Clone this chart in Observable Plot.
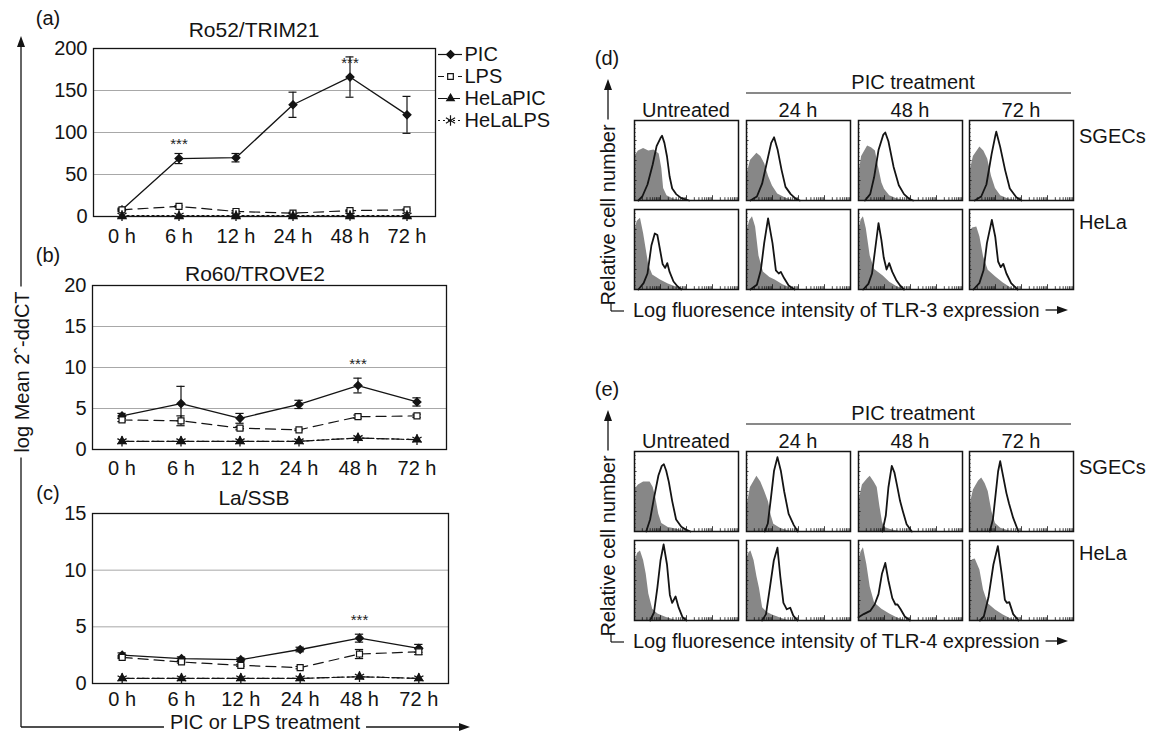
<!DOCTYPE html>
<html><head><meta charset="utf-8">
<script src="https://cdn.jsdelivr.net/npm/d3@7"></script>
<script src="https://cdn.jsdelivr.net/npm/@observablehq/plot@0.6"></script>
<style>
html,body{margin:0;padding:0;background:#fff;}
#root{position:relative;width:1158px;height:736px;overflow:hidden;font-family:"Liberation Sans",Arial,Helvetica,sans-serif;color:#111;}
</style></head><body><div id="root"></div>
<script>
// ---------- DATA: line charts ----------
const times = ["0 h","6 h","12 h","24 h","48 h","72 h"];
const seriesNames = ["PIC","LPS","HeLaPIC","HeLaLPS"];

// (a) Ro52/TRIM21
const ro52PIC      = [8, 69, 70, 133, 166, 121];
const ro52PICerr   = [2, 6, 5, 15, 24, 22];
const ro52LPS      = [8, 12, 6, 4, 7, 8];
const ro52LPSerr   = [1, 1, 1, 1, 1, 1];
const ro52HeLaPIC  = [0.3, 0.3, 0.3, 0.3, 0.3, 0.3];
const ro52HeLaLPS  = [1, 1, 1, 1, 1.2, 1];
const ro52SigTimes = ["6 h", "48 h"];
const ro52SigY     = [86, 182];

// (b) Ro60/TROVE2
const ro60PIC      = [4.1, 5.6, 3.8, 5.5, 7.8, 5.8];
const ro60PICerr   = [0.3, 2.1, 0.6, 0.5, 0.9, 0.5];
const ro60LPS      = [3.6, 3.5, 2.6, 2.4, 4.0, 4.1];
const ro60LPSerr   = [0.2, 0.6, 0.2, 0.1, 0.2, 0.2];
const ro60HeLaPIC  = [1.0, 1.0, 1.0, 1.0, 1.4, 1.2];
const ro60HeLaLPS  = [1.0, 1.0, 1.0, 1.0, 1.4, 1.2];
const ro60SigTimes = ["48 h"];
const ro60SigY     = [10.4];

// (c) La/SSB
const laPIC        = [2.5, 2.2, 2.1, 3.0, 4.0, 3.1];
const laPICerr     = [0.2, 0.15, 0.15, 0.2, 0.35, 0.35];
const laLPS        = [2.3, 1.9, 1.6, 1.4, 2.6, 2.8];
const laLPSerr     = [0.1, 0.1, 0.1, 0.1, 0.4, 0.25];
const laHeLaPIC    = [0.45, 0.45, 0.45, 0.45, 0.6, 0.45];
const laHeLaLPS    = [0.45, 0.45, 0.45, 0.45, 0.6, 0.45];
const laSigTimes   = ["48 h"];
const laSigY       = [5.6];

// ---------- DATA: flow cytometry histograms ([log decade, % of max]) ----------
const conditions = ["Untreated","24 h","48 h","72 h"];
const cellLines = ["SGECs","HeLa"];
// TLR-3, SGECs
const t3SgecIso0 = [[0,55],[0.15,62],[0.35,65],[0.55,62],[0.75,63],[0.95,58],[1.05,40],[1.12,15],[1.25,6],[1.5,2],[1.8,0]];
const t3SgecTlr0 = [[0.15,0],[0.3,5],[0.5,20],[0.7,45],[0.85,68],[1.0,78],[1.06,81],[1.15,72],[1.25,55],[1.35,30],[1.45,15],[1.6,8],[1.8,3],[2.1,0]];
const t3SgecIso24 = [[0,30],[0.15,50],[0.4,59],[0.55,55],[0.7,46],[0.85,30],[1.0,18],[1.2,8],[1.5,3],[1.8,0]];
const t3SgecTlr24 = [[0.15,0],[0.4,5],[0.6,21],[0.8,50],[0.95,72],[1.06,79],[1.2,63],[1.35,38],[1.5,17],[1.7,8],[1.9,2],[2.05,0]];
const t3SgecIso48 = [[0,30],[0.12,55],[0.35,68],[0.5,66],[0.65,62],[0.77,42],[0.9,22],[1.0,14],[1.2,6],[1.5,2],[1.8,0]];
const t3SgecTlr48 = [[0.25,0],[0.45,8],[0.6,29],[0.77,63],[0.95,82],[1.03,85],[1.15,74],[1.35,42],[1.55,19],[1.75,8],[1.95,2],[2.1,0]];
const t3SgecIso72 = [[0,33],[0.15,55],[0.4,67],[0.55,62],[0.7,52],[0.85,30],[1.0,15],[1.2,6],[1.5,2],[1.8,0]];
const t3SgecTlr72 = [[0.2,0],[0.45,5],[0.65,20],[0.85,58],[1.0,82],[1.03,86],[1.18,67],[1.37,38],[1.55,15],[1.8,4],[2.0,0]];
// TLR-3, HeLa
const t3HelaIso0 = [[0,70],[0.1,85],[0.23,89],[0.35,70],[0.45,50],[0.55,30],[0.7,18],[1.0,12],[1.3,7],[1.6,3],[1.9,0]];
const t3HelaTlr0 = [[0.15,0],[0.35,8],[0.5,20],[0.65,55],[0.78,70],[0.88,68],[0.98,50],[1.08,32],[1.18,27],[1.26,33],[1.35,22],[1.5,10],[1.65,4],[1.8,0]];
const t3HelaIso24 = [[0,70],[0.12,86],[0.23,91],[0.35,78],[0.48,42],[0.65,22],[0.9,15],[1.1,12],[1.4,6],[1.7,2],[1.9,0]];
const t3HelaTlr24 = [[0.15,0],[0.4,6],[0.55,24],[0.68,58],[0.83,89],[1.0,58],[1.13,24],[1.24,20],[1.32,22],[1.45,14],[1.62,5],[1.85,0]];
const t3HelaIso48 = [[0,72],[0.1,87],[0.19,91],[0.3,76],[0.45,42],[0.62,25],[0.95,17],[1.2,9],[1.5,3],[1.8,0]];
const t3HelaTlr48 = [[0.18,0],[0.38,7],[0.52,20],[0.64,50],[0.77,83],[0.88,62],[0.97,40],[1.08,25],[1.18,33],[1.3,22],[1.45,12],[1.6,5],[1.75,0]];
const t3HelaIso72 = [[0,72],[0.12,77],[0.28,78],[0.4,66],[0.54,41],[0.72,24],[1.0,16],[1.3,8],[1.6,2],[1.8,0]];
const t3HelaTlr72 = [[0.15,0],[0.38,8],[0.54,24],[0.67,58],[0.86,87],[0.99,66],[1.1,35],[1.2,28],[1.3,32],[1.42,20],[1.6,8],[1.85,0]];
// TLR-4, SGECs
const t4SgecIso0 = [[0,52],[0.15,58],[0.35,62],[0.6,62],[0.72,55],[0.82,42],[0.93,22],[1.05,10],[1.3,5],[1.6,3],[1.9,0]];
const t4SgecTlr0 = [[0.45,0],[0.6,15],[0.75,42],[0.92,70],[1.05,82],[1.13,84],[1.22,76],[1.32,62],[1.45,38],[1.6,15],[1.8,6],[2.0,2],[2.15,0]];
const t4SgecIso24 = [[0,28],[0.15,55],[0.4,69],[0.55,62],[0.7,50],[0.85,37],[0.95,20],[1.05,9],[1.3,4],[1.6,1],[1.8,0]];
const t4SgecTlr24 = [[0.7,0],[0.82,10],[0.94,42],[1.06,76],[1.19,93],[1.32,76],[1.45,50],[1.62,22],[1.82,8],[1.97,0]];
const t4SgecIso48 = [[0,35],[0.15,58],[0.35,66],[0.45,69],[0.6,62],[0.72,55],[0.82,32],[0.92,12],[1.0,5],[1.3,2],[1.6,0]];
const t4SgecTlr48 = [[0.92,0],[1.05,20],[1.15,55],[1.28,82],[1.38,74],[1.48,58],[1.6,38],[1.7,26],[1.85,9],[2.05,0]];
const t4SgecIso72 = [[0,30],[0.15,52],[0.35,63],[0.47,67],[0.6,60],[0.72,50],[0.86,25],[1.0,10],[1.2,4],[1.5,1],[1.7,0]];
const t4SgecTlr72 = [[0.78,0],[0.9,15],[0.99,42],[1.1,75],[1.18,88],[1.3,68],[1.42,48],[1.52,35],[1.68,17],[1.88,0]];
// TLR-4, HeLa
const t4HelaIso0 = [[0,72],[0.12,84],[0.23,87],[0.35,75],[0.45,58],[0.55,33],[0.7,14],[0.9,8],[1.2,4],[1.6,0]];
const t4HelaTlr0 = [[0.6,0],[0.75,10],[0.88,41],[1.0,75],[1.12,95],[1.25,70],[1.36,32],[1.45,22],[1.58,30],[1.7,16],[1.85,4],[2.0,0]];
const t4HelaIso24 = [[0,75],[0.1,85],[0.17,87],[0.29,75],[0.4,55],[0.5,40],[0.62,16],[0.8,10],[1.0,7],[1.3,3],[1.6,0]];
const t4HelaTlr24 = [[0.6,0],[0.75,8],[0.9,41],[1.05,75],[1.19,91],[1.3,55],[1.42,22],[1.55,14],[1.68,16],[1.8,6],[1.96,0]];
const t4HelaIso48 = [[0,72],[0.1,86],[0.19,91],[0.32,70],[0.45,42],[0.62,22],[0.9,14],[1.2,8],[1.5,3],[1.8,0]];
const t4HelaTlr48 = [[0,4],[0.2,8],[0.45,12],[0.62,20],[0.77,33],[0.9,58],[1.03,72],[1.15,50],[1.3,28],[1.42,20],[1.5,20],[1.62,14],[1.78,5],[1.98,0]];
const t4HelaIso72 = [[0,72],[0.12,76],[0.22,77],[0.4,63],[0.54,38],[0.72,21],[1.0,13],[1.3,7],[1.6,2],[1.85,0]];
const t4HelaTlr72 = [[0.4,0],[0.55,5],[0.73,29],[0.92,70],[1.09,93],[1.24,58],[1.36,26],[1.44,22],[1.53,23],[1.68,8],[1.88,0]];

const decades = [0, 1, 2, 3];

// ---------- RENDER ----------
const FONT = '"Liberation Sans", Arial, Helvetica, sans-serif';
const INK = "#141414";
const root = document.getElementById("root");
function place(node, left, top) {
  node.style.position = "absolute";
  node.style.left = left + "px";
  node.style.top = top + "px";
  root.appendChild(node);
}

function rows(vals, err) {
  return vals.map((v, i) => ({i, v, lo: v - (err ? err[i] : 0), hi: v + (err ? err[i] : 0)}));
}

function lineChart(o) {
  const idx = d3.range(times.length);
  const P = rows(o.pic, o.picErr), L = rows(o.lps, o.lpsErr);
  const HP = rows(o.hpic), HL = rows(o.hlps);
  const S = o.sigTimes.map((t, k) => ({i: times.indexOf(t), y: o.sigY[k]}));
  const cap = 0.07;
  return Plot.plot({
    width: o.width, height: o.height,
    marginTop: o.mt, marginBottom: o.mb, marginLeft: o.ml, marginRight: o.mr,
    style: {fontFamily: FONT, fontSize: "20px", color: INK, background: "none", overflow: "visible"},
    x: {domain: [-0.5, times.length - 0.5]},
    y: {domain: o.domain},
    marks: [
      Plot.ruleY(o.grid, {stroke: "#a8a8a8", strokeWidth: 1}),
      Plot.axisY({ticks: o.ticks, tickSize: 0, tickPadding: 6, label: null, fontSize: 20}),
      Plot.axisX({ticks: idx, tickFormat: i => times[i], tickSize: 0, tickPadding: o.xPad, label: null, fontSize: 20}),
      Plot.line(HP, {x: "i", y: "v", stroke: INK, strokeWidth: 1.2, strokeDasharray: "10,5"}),
      Plot.line(HL, {x: "i", y: "v", stroke: INK, strokeWidth: 1.2, strokeDasharray: "2,3"}),
      Plot.line(L, {x: "i", y: "v", stroke: INK, strokeWidth: 1.2, strokeDasharray: "10,6"}),
      Plot.line(P, {x: "i", y: "v", stroke: INK, strokeWidth: 1.3}),
      Plot.ruleX(P, {x: "i", y1: "lo", y2: "hi", stroke: INK, strokeWidth: 1.2}),
      Plot.ruleY(P, {y: "hi", x1: d => d.i - cap, x2: d => d.i + cap, stroke: INK, strokeWidth: 1.2}),
      Plot.ruleY(P, {y: "lo", x1: d => d.i - cap, x2: d => d.i + cap, stroke: INK, strokeWidth: 1.2}),
      Plot.ruleX(L, {x: "i", y1: "lo", y2: "hi", stroke: INK, strokeWidth: 1.2}),
      Plot.ruleY(L, {y: "hi", x1: d => d.i - cap, x2: d => d.i + cap, stroke: INK, strokeWidth: 1.2}),
      Plot.ruleY(L, {y: "lo", x1: d => d.i - cap, x2: d => d.i + cap, stroke: INK, strokeWidth: 1.2}),
      Plot.dot(P, {x: "i", y: "v", symbol: "diamond2", fill: INK, stroke: INK, r: 3.4}),
      Plot.dot(L, {x: "i", y: "v", symbol: "square2", fill: "white", stroke: INK, strokeWidth: 1.2, r: 3.8}),
      Plot.dot(HP, {x: "i", y: "v", symbol: "triangle2", fill: INK, stroke: INK, r: 3.6}),
      Plot.dot(HL, {x: "i", y: "v", symbol: "asterisk", stroke: INK, strokeWidth: 1.3, r: 5}),
      Plot.text(S, {x: "i", y: "y", text: () => "***", fontSize: 15, fill: "#222222"}),
      Plot.frame({stroke: INK, strokeWidth: 1.3})
    ]
  });
}

place(lineChart({width: 440, height: 260, mt: 48, mb: 44, ml: 93, mr: 5, xPad: 12,
  domain: [0, 200], ticks: [0, 50, 100, 150, 200], grid: [50, 100, 150],
  pic: ro52PIC, picErr: ro52PICerr, lps: ro52LPS, lpsErr: ro52LPSerr, hpic: ro52HeLaPIC, hlps: ro52HeLaLPS,
  sigTimes: ro52SigTimes, sigY: ro52SigY}), 0, 0);

place(lineChart({width: 448, height: 250, mt: 50, mb: 36, ml: 92, mr: 2, xPad: 11,
  domain: [0, 20], ticks: [0, 5, 10, 15, 20], grid: [5, 10, 15],
  pic: ro60PIC, picErr: ro60PICerr, lps: ro60LPS, lpsErr: ro60LPSerr, hpic: ro60HeLaPIC, hlps: ro60HeLaLPS,
  sigTimes: ro60SigTimes, sigY: ro60SigY}), 0, 235);

place(lineChart({width: 450, height: 240, mt: 43, mb: 27, ml: 92, mr: 2, xPad: 8,
  domain: [0, 15], ticks: [0, 5, 10, 15], grid: [5, 10],
  pic: laPIC, picErr: laPICerr, lps: laLPS, lpsErr: laLPSerr, hpic: laHeLaPIC, hlps: laHeLaLPS,
  sigTimes: laSigTimes, sigY: laSigY}), 0, 470);

// Legend for (a)
const dashes = {PIC: null, LPS: "6,4", HeLaPIC: "9,4", HeLaLPS: "2,3"};
const symbols = {PIC: "diamond2", LPS: "square2", HeLaPIC: "triangle2", HeLaLPS: "asterisk"};
const legendMarks = [];
for (const s of seriesNames) {
  legendMarks.push(Plot.ruleY([s], {y: d => d, x1: 2, x2: 26, stroke: INK, strokeWidth: 1.2, strokeDasharray: dashes[s]}));
  legendMarks.push(Plot.dot([s], {x: 14, y: d => d, symbol: symbols[s],
    fill: s === "LPS" ? "white" : (s === "HeLaLPS" ? "none" : INK), stroke: INK, strokeWidth: 1.2,
    r: s === "HeLaLPS" ? 5 : 3.6}));
}
legendMarks.push(Plot.text(seriesNames, {x: 28, y: d => d, text: d => d, textAnchor: "start", fontSize: 20, fill: INK}));
place(Plot.plot({
  width: 120, height: 92, margin: 0,
  style: {fontFamily: FONT, background: "none", overflow: "visible"},
  x: {domain: [0, 120], range: [0, 120], axis: null},
  y: {type: "point", domain: seriesNames, range: [11, 79], padding: 0, axis: null},
  marks: legendMarks
}), 436, 42);

// Histogram panels
function histo(iso, tlr) {
  const logTicks = [];
  for (const d of decades) for (let m = 1; m <= 9; m++) logTicks.push({x: d + Math.log10(m), major: m === 1});
  const yTicks = d3.range(0, 100, 5);
  return Plot.plot({
    width: 106, height: 82, margin: 1,
    style: {background: "none", overflow: "visible"},
    x: {domain: [0, 4], axis: null},
    y: {domain: [0, 100], axis: null},
    marks: [
      Plot.areaY(iso, {x: d => d[0], y: d => d[1], fill: "#878787", curve: "linear"}),
      Plot.lineY(tlr, {x: d => d[0], y: d => d[1], stroke: INK, strokeWidth: 1.8, curve: "linear"}),
      Plot.ruleX(logTicks, {x: "x", y1: 0, y2: d => d.major ? 6 : 3.5, stroke: INK, strokeWidth: 0.8}),
      Plot.ruleY(yTicks, {y: d => d, x1: 0, x2: d => d % 25 === 0 ? 0.1 : 0.06, stroke: INK, strokeWidth: 0.8}),
      Plot.frame({stroke: INK, strokeWidth: 1.5})
    ]
  });
}
const tlr3 = [
  [[t3SgecIso0, t3SgecTlr0], [t3SgecIso24, t3SgecTlr24], [t3SgecIso48, t3SgecTlr48], [t3SgecIso72, t3SgecTlr72]],
  [[t3HelaIso0, t3HelaTlr0], [t3HelaIso24, t3HelaTlr24], [t3HelaIso48, t3HelaTlr48], [t3HelaIso72, t3HelaTlr72]]
];
const tlr4 = [
  [[t4SgecIso0, t4SgecTlr0], [t4SgecIso24, t4SgecTlr24], [t4SgecIso48, t4SgecTlr48], [t4SgecIso72, t4SgecTlr72]],
  [[t4HelaIso0, t4HelaTlr0], [t4HelaIso24, t4HelaTlr24], [t4HelaIso48, t4HelaTlr48], [t4HelaIso72, t4HelaTlr72]]
];
const colLefts = [634, 746, 858, 969];
const rowTops3 = [120, 209], rowTops4 = [451, 540];
tlr3.forEach((row, r) => row.forEach(([iso, tlr], c) => place(histo(iso, tlr), colLefts[c] - 1, rowTops3[r] - 1)));
tlr4.forEach((row, r) => row.forEach(([iso, tlr], c) => place(histo(iso, tlr), colLefts[c] - 1, rowTops4[r] - 1)));

// ---------- Annotations overlay ----------
const svg = d3.select(root).append("svg")
  .attr("width", 1158).attr("height", 736)
  .style("position", "absolute").style("left", "0px").style("top", "0px")
  .style("pointer-events", "none")
  .attr("font-family", FONT).attr("font-size", 20).attr("fill", INK);

function text(x, y, s, anchor = "middle", size = 20, rot = 0) {
  const t = svg.append("text").attr("x", 0).attr("y", 0)
    .attr("text-anchor", anchor).attr("dominant-baseline", "central")
    .attr("font-size", size)
    .attr("transform", `translate(${x},${y})` + (rot ? ` rotate(${rot})` : ""))
    .text(s);
  return t;
}
function line(x1, y1, x2, y2, w = 1.3) {
  svg.append("line").attr("x1", x1).attr("y1", y1).attr("x2", x2).attr("y2", y2)
    .attr("stroke", INK).attr("stroke-width", w);
}
function arrowUp(x, y) { svg.append("path").attr("d", `M${x},${y} L${x - 4},${y + 11} L${x + 4},${y + 11} Z`).attr("fill", INK); }
function arrowRight(x, y) { svg.append("path").attr("d", `M${x},${y} L${x - 11},${y - 4} L${x - 11},${y + 4} Z`).attr("fill", INK); }

// left panels
text(48, 18, "(a)"); text(48, 255, "(b)"); text(48, 493, "(c)");
text(254, 29, "Ro52/TRIM21", "middle", 21); text(255, 273, "Ro60/TROVE2", "middle", 21); text(254, 497, "La/SSB", "middle", 21);
{
  const lab = text(22, 372, "log Mean 2ˆ-ddCT", "middle", 20, -90);
  const L = lab.node().getComputedTextLength();
  line(21, 40, 21, 372 - L / 2 - 5);
  arrowUp(21, 36);
  line(21, 372 + L / 2 + 5, 21, 727);
  const xl = text(265, 722, "PIC or LPS treatment");
  const W = xl.node().getComputedTextLength();
  line(21, 727, 265 - W / 2 - 6, 727);
  line(265 + W / 2 + 6, 727, 462, 727);
  arrowRight(470, 727);
}

// right panels
function flowPanel(dy, letter, tlrName) {
  text(607, 58 + dy, letter);
  text(913, 82 + dy, "PIC treatment");
  line(746, 93 + dy, 1071, 93 + dy, 1.2);
  conditions.forEach((c, k) => text(colLefts[k] + 52, 110 + dy, c));
  text(1079, 136 + dy, cellLines[0], "start");
  text(1079, 222 + dy, cellLines[1], "start");
  const yl = text(608, 215 + dy, "Relative cell number", "middle", 20, -90);
  const L = yl.node().getComputedTextLength();
  line(608, 215 + dy - L / 2 - 5, 608, 84 + dy);
  arrowUp(608, 79 + dy);
  // corner
  line(611, 303 + dy, 611, 311 + dy, 1.2);
  line(611, 311 + dy, 624, 311 + dy, 1.2);
  const xl = text(633, 310 + dy, `Log fluoresence intensity of ${tlrName} expression`, "start");
  const W = xl.node().getComputedTextLength();
  line(633 + W + 6, 310 + dy, 1060 + Math.max(0, 633 + W - 1040), 310 + dy);
  arrowRight(1068 + Math.max(0, 633 + W - 1040), 310 + dy);
}
flowPanel(0, "(d)", "TLR-3");
flowPanel(331, "(e)", "TLR-4");
</script></body></html>
